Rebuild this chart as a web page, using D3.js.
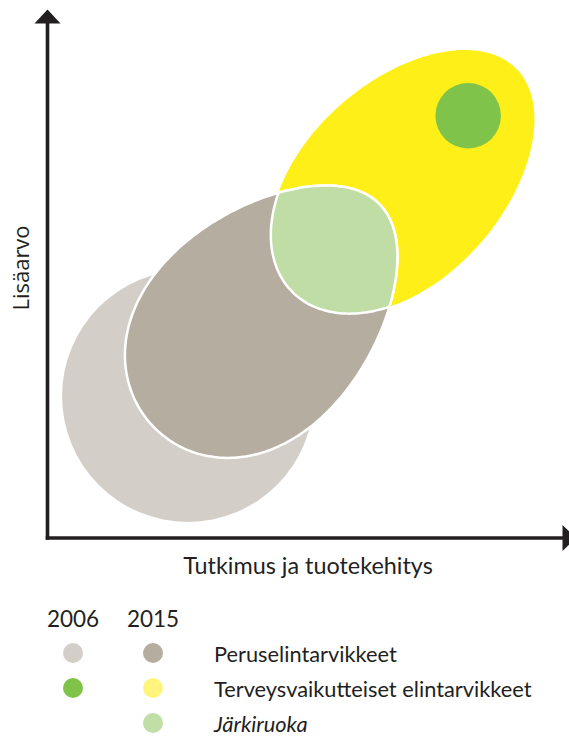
<!DOCTYPE html>
<html>
<head>
<meta charset="utf-8">
<script src="https://cdn.jsdelivr.net/npm/d3@7"></script>
<style>
  body { margin: 0; background: #fff; }
  svg { display: block; }
  text { fill: #231f20; }
</style>
</head>
<body>
<svg id="chart" width="569" height="736"></svg>
<script>
// legend columns and rows
const years = ['2006', '2015'];
const categories = ['Peruselintarvikkeet', 'Terveysvaikutteiset elintarvikkeet', 'Järkiruoka'];

// 2006 positions (axis units 0..100): centre and radius
const circles2006 = [
  { cat: 0, x: 27.0, y: 27.3, r: 24.2 },
  { cat: 1, x: 80.9, y: 81.2, r: 6.3 }
];

// 2015 positions: egg shaped areas, centre, half length, half width, tilt
const eggs2015 = [
  { cat: 0, x: 42.2, y: 42.7, a: 30.5, b: 21.0, angle: 45, k: 0.16 },
  { cat: 1, x: 68.6, y: 68.8, a: 30.4, b: 19.0, angle: 45, k: 0.05 }
];
// Järkiruoka = overlap of the two 2015 areas

const colors = {
  '2006': ['#d3cfc8', '#80c34a', null],
  '2015': ['#b5ada0', '#ffef18', '#bfdda4']
};
const legendColors = {
  '2006': ['#d3cfc8', '#80c34a', null],
  '2015': ['#b5ada0', '#fff47d', '#c0dea5']
};

const svg = d3.select('#chart');
const x = d3.scaleLinear().domain([0, 100]).range([47.5, 567.5]);
const y = d3.scaleLinear().domain([0, 100]).range([538, 18]);

// outline of an egg in axis units
function eggPoints(d) {
  const th = d.angle * Math.PI / 180;
  return d3.range(0, 360, 2).map(deg => {
    const t = deg * Math.PI / 180;
    const u = d.a * Math.cos(t);
    const v = d.b * Math.sin(t) * (1 - d.k * Math.cos(t));
    return [d.x + u * Math.cos(th) - v * Math.sin(th), d.y + u * Math.sin(th) + v * Math.cos(th)];
  });
}
const egg = d3.line()
  .x(p => x(p[0]))
  .y(p => y(p[1]))
  .curve(d3.curveCardinalClosed);

const defs = svg.append('defs');
eggs2015.forEach((d, i) => {
  defs.append('clipPath').attr('id', 'clip' + i)
    .append('path').attr('d', egg(eggPoints(d)));
});

const plot = svg.append('g');

// big 2006 circle
plot.append('circle')
  .attr('cx', x(circles2006[0].x))
  .attr('cy', y(circles2006[0].y))
  .attr('r', x(circles2006[0].r) - x(0))
  .attr('fill', colors['2006'][0]);

// yellow then brown
plot.append('path')
  .attr('d', egg(eggPoints(eggs2015[1])))
  .attr('fill', colors['2015'][1]);
plot.append('path')
  .attr('d', egg(eggPoints(eggs2015[0])))
  .attr('fill', colors['2015'][0])
  .attr('stroke', '#fff')
  .attr('stroke-width', 2.5);

// overlap
plot.append('path')
  .attr('d', egg(eggPoints(eggs2015[0])))
  .attr('clip-path', 'url(#clip1)')
  .attr('fill', colors['2015'][2]);
plot.append('path')
  .attr('d', egg(eggPoints(eggs2015[0])))
  .attr('clip-path', 'url(#clip1)')
  .attr('fill', 'none')
  .attr('stroke', '#fff')
  .attr('stroke-width', 2.5);
plot.append('path')
  .attr('d', egg(eggPoints(eggs2015[1])))
  .attr('clip-path', 'url(#clip0)')
  .attr('fill', 'none')
  .attr('stroke', '#fff')
  .attr('stroke-width', 2.5);

// small 2006 circle
plot.append('circle')
  .attr('cx', x(circles2006[1].x))
  .attr('cy', y(circles2006[1].y))
  .attr('r', x(circles2006[1].r) - x(0))
  .attr('fill', colors['2006'][1]);

// axes with arrow heads
const axisColor = '#231f20';
svg.append('line')
  .attr('x1', x(0)).attr('x2', x(0))
  .attr('y1', y(0) + 1.8).attr('y2', 22)
  .attr('stroke', axisColor).attr('stroke-width', 3.6);
svg.append('line')
  .attr('x1', x(0) - 1.8).attr('x2', 564)
  .attr('y1', y(0)).attr('y2', y(0))
  .attr('stroke', axisColor).attr('stroke-width', 3.6);
svg.append('path')
  .attr('d', `M${x(0)},9.5L${x(0) + 13},23.5L${x(0) - 13},23.5Z`)
  .attr('fill', axisColor);
svg.append('path')
  .attr('d', `M576,${y(0)}L562.5,${y(0) - 13}L562.5,${y(0) + 13}Z`)
  .attr('fill', axisColor);

svg.append('text')
  .attr('transform', 'translate(29,268) rotate(-90)')
  .attr('text-anchor', 'middle')
  .style('font-family', '"Open Sans", sans-serif')
  .style('font-size', '22px')
  .text('Lisäarvo');

svg.append('text')
  .attr('x', 308).attr('y', 574)
  .attr('text-anchor', 'middle')
  .style('font-family', 'Lato, sans-serif')
  .style('font-size', '23.4px')
  .text('Tutkimus ja tuotekehitys');

// legend
const colX = [73, 153];
const rowY = [653, 688, 723];
const legend = svg.append('g')
  .style('font-family', 'Lato, sans-serif');

legend.selectAll('text.year')
  .data(years)
  .enter()
  .append('text')
  .attr('class', 'year')
  .attr('x', (d, i) => colX[i])
  .attr('y', 627)
  .attr('text-anchor', 'middle')
  .style('font-size', '22.5px')
  .text(d => d);

years.forEach((yr, i) => {
  legend.selectAll('circle.c' + yr)
    .data(categories.map((c, j) => ({ c, j })).filter(e => legendColors[yr][e.j]))
    .enter()
    .append('circle')
    .attr('cx', colX[i])
    .attr('cy', e => rowY[e.j])
    .attr('r', 10)
    .attr('fill', e => legendColors[yr][e.j]);
});

legend.selectAll('text.cat')
  .data(categories)
  .enter()
  .append('text')
  .attr('class', 'cat')
  .attr('x', 214)
  .attr('y', (d, i) => rowY[i] + 9)
  .style('font-size', '21.8px')
  .style('font-style', (d, i) => i === 2 ? 'italic' : 'normal')
  .text(d => d);
</script>
</body>
</html>
